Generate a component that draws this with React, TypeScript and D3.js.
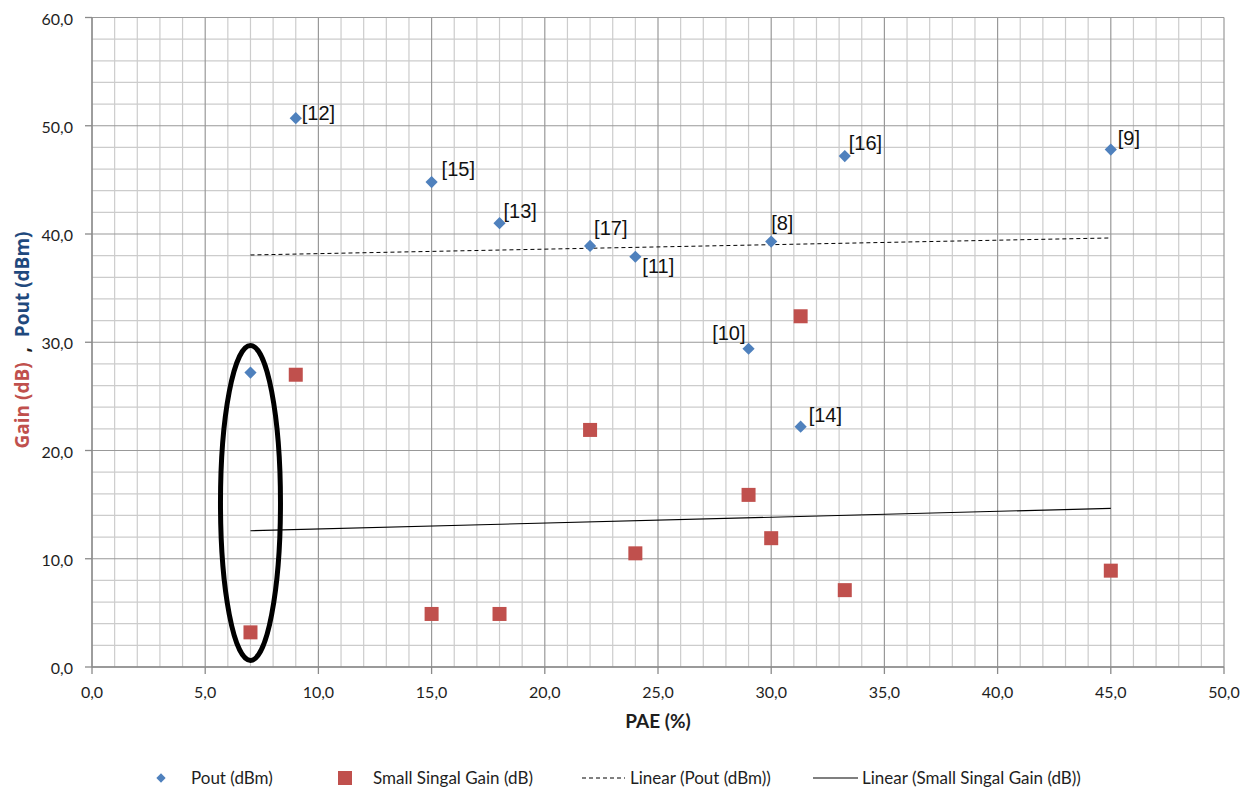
import React from "react";
import * as d3 from "d3";

// PAE (%) of each reference design
const pae = [7, 9, 15, 18, 22, 24, 29, 30, 31.3, 33.25, 45];
// Output power (dBm)
const pout = [27.2, 50.7, 44.8, 41.0, 38.9, 37.9, 29.4, 39.3, 22.2, 47.2, 47.8];
// Small signal gain (dB)
const gain = [3.2, 27.0, 4.9, 4.9, 21.9, 10.5, 15.9, 11.9, 32.4, 7.1, 8.9];
// Reference tags attached to the Pout points
const refs = ["", "[12]", "[15]", "[13]", "[17]", "[11]", "[10]", "[8]", "[14]", "[16]", "[9]"];

const xTicks = [0, 5, 10, 15, 20, 25, 30, 35, 40, 45, 50];
const yTicks = [0, 10, 20, 30, 40, 50, 60];

// label placement relative to each Pout point: [dx, dy, anchor]
const labelPlacement: [number, number, string][] = [
  [0, 0, "start"],
  [6, 2, "start"],
  [10, -6, "start"],
  [4, -5, "start"],
  [4, -11, "start"],
  [7, 16, "start"],
  [-3, -9, "end"],
  [0, -12, "start"],
  [8, -5, "start"],
  [4, -6, "start"],
  [7, -5, "start"],
];

const BLUE = "#4F81BD";
const RED = "#C0504D";

function linearFit(xs: number[], ys: number[]) {
  const mx = d3.mean(xs)!;
  const my = d3.mean(ys)!;
  let sxy = 0;
  let sxx = 0;
  xs.forEach((x, i) => {
    sxy += (x - mx) * (ys[i] - my);
    sxx += (x - mx) * (x - mx);
  });
  const slope = sxy / sxx;
  return (x: number) => my + slope * (x - mx);
}

export default function App() {
  const W = 1250;
  const H = 789;
  const x = d3.scaleLinear().domain([0, 50]).range([92, 1224]);
  const y = d3.scaleLinear().domain([0, 60]).range([667, 17.5]);

  const minorX = d3.range(0, 51, 1);
  const minorY = d3.range(0, 61, 2);

  const [x0, x1] = d3.extent(pae) as [number, number];
  const fitPout = linearFit(pae, pout);
  const fitGain = linearFit(pae, gain);

  const diamond = d3.symbol().type(d3.symbolDiamond2).size(95)()!;
  const legendDiamond = d3.symbol().type(d3.symbolDiamond2).size(55)()!;

  const uiFont = "Lato, 'Open Sans', sans-serif";
  const fmt = (v: number) => d3.format(".1f")(v).replace(".", ",");

  // highlighted design marked with an ellipse
  const ell = { cx: 7, cy: 15.15, rx: 1.325, ry: 14.55 };

  return (
    <svg
      width={W}
      height={H}
      style={{ position: "absolute", left: 0, top: 0, background: "#fff" }}
    >
      {/* minor grid */}
      <g stroke="#cccccc" strokeWidth={1.2}>
        {minorX.filter((v) => v % 5 !== 0).map((v) => (
          <line key={"mx" + v} x1={x(v)} x2={x(v)} y1={y(0)} y2={y(60)} />
        ))}
        {minorY.filter((v) => v % 10 !== 0).map((v) => (
          <line key={"my" + v} x1={x(0)} x2={x(50)} y1={y(v)} y2={y(v)} />
        ))}
      </g>
      {/* major grid */}
      <g stroke="#999999" strokeWidth={1.2}>
        {xTicks.map((v) => (
          <line key={"Mx" + v} x1={x(v)} x2={x(v)} y1={y(0)} y2={y(60)} />
        ))}
        {yTicks.map((v) => (
          <line key={"My" + v} x1={x(0)} x2={x(50)} y1={y(v)} y2={y(v)} />
        ))}
      </g>
      {/* axes */}
      <g stroke="#8a8a8a" strokeWidth={1.3}>
        <line x1={x(0)} x2={x(0)} y1={y(0)} y2={y(60)} />
        <line x1={x(0)} x2={x(50)} y1={y(0)} y2={y(0)} />
        {yTicks.map((v) => (
          <line key={"ty" + v} x1={x(0) - 7} x2={x(0)} y1={y(v)} y2={y(v)} />
        ))}
        {xTicks.map((v) => (
          <line key={"tx" + v} x1={x(v)} x2={x(v)} y1={y(0)} y2={y(0) + 7} />
        ))}
      </g>
      <g fontFamily={uiFont} fontSize={16} fill="#1e1e1e">
        {yTicks.map((v) => (
          <text key={"ly" + v} x={x(0) - 19} y={y(v) + 7} textAnchor="end">
            {fmt(v)}
          </text>
        ))}
        {xTicks.map((v) => (
          <text key={"lx" + v} x={x(v)} y={698} textAnchor="middle">
            {fmt(v)}
          </text>
        ))}
      </g>
      {/* axis titles */}
      <text
        x={658}
        y={728}
        textAnchor="middle"
        fontFamily={uiFont}
        fontWeight="bold"
        fontSize={19}
        fill="#1e1e1e"
      >
        PAE (%)
      </text>
      <text
        transform="translate(29,340) rotate(-90)"
        textAnchor="middle"
        fontFamily="'Open Sans', Lato, sans-serif"
        fontWeight="bold"
        fontSize={19}
        xmlSpace="preserve"
      >
        <tspan fill={RED}>Gain (dB)</tspan>
        <tspan fill="#1e1e1e">{"  ,  "}</tspan>
        <tspan fill="#1F497D">Pout (dBm)</tspan>
      </text>

      {/* linear trend lines */}
      <line
        x1={x(x0)}
        x2={x(x1)}
        y1={y(fitPout(x0))}
        y2={y(fitPout(x1))}
        stroke="#000"
        strokeWidth={1}
        strokeDasharray="4,3"
      />
      <line
        x1={x(x0)}
        x2={x(x1)}
        y1={y(fitGain(x0))}
        y2={y(fitGain(x1))}
        stroke="#000"
        strokeWidth={1.1}
      />

      {/* gain markers */}
      {pae.map((v, i) => (
        <rect
          key={"g" + i}
          x={x(v) - 7}
          y={y(gain[i]) - 7}
          width={14}
          height={14}
          fill={RED}
        />
      ))}
      {/* pout markers */}
      {pae.map((v, i) => (
        <path
          key={"p" + i}
          d={diamond}
          transform={`translate(${x(v)},${y(pout[i])})`}
          fill={BLUE}
        />
      ))}
      {/* reference tags */}
      <g fontFamily="'Liberation Sans', Arial, sans-serif" fontSize={20} fill="#111">
        {pae.map((v, i) =>
          refs[i] ? (
            <text
              key={"r" + i}
              x={x(v) + labelPlacement[i][0]}
              y={y(pout[i]) + labelPlacement[i][1]}
              textAnchor={labelPlacement[i][2] as any}
            >
              {refs[i]}
            </text>
          ) : null
        )}
      </g>

      {/* highlight ellipse */}
      <ellipse
        cx={x(ell.cx)}
        cy={y(ell.cy)}
        rx={x(ell.cx + ell.rx) - x(ell.cx)}
        ry={y(0) - y(ell.ry)}
        fill="none"
        stroke="#000"
        strokeWidth={5}
      />

      {/* legend */}
      <g fontFamily={uiFont} fontSize={17} fill="#1e1e1e">
        <path d={legendDiamond} transform="translate(161,778)" fill={BLUE} />
        <text x={191} y={784}>Pout (dBm)</text>
        <rect x={338} y={771} width={14} height={14} fill={RED} />
        <text x={373} y={784}>Small Singal Gain (dB)</text>
        <line x1={582} x2={625} y1={778} y2={778} stroke="#000" strokeDasharray="4,3" />
        <text x={630} y={784}>Linear (Pout (dBm))</text>
        <line x1={813} x2={858} y1={778} y2={778} stroke="#000" strokeWidth={1.1} />
        <text x={862} y={784}>Linear (Small Singal Gain (dB))</text>
      </g>
    </svg>
  );
}
